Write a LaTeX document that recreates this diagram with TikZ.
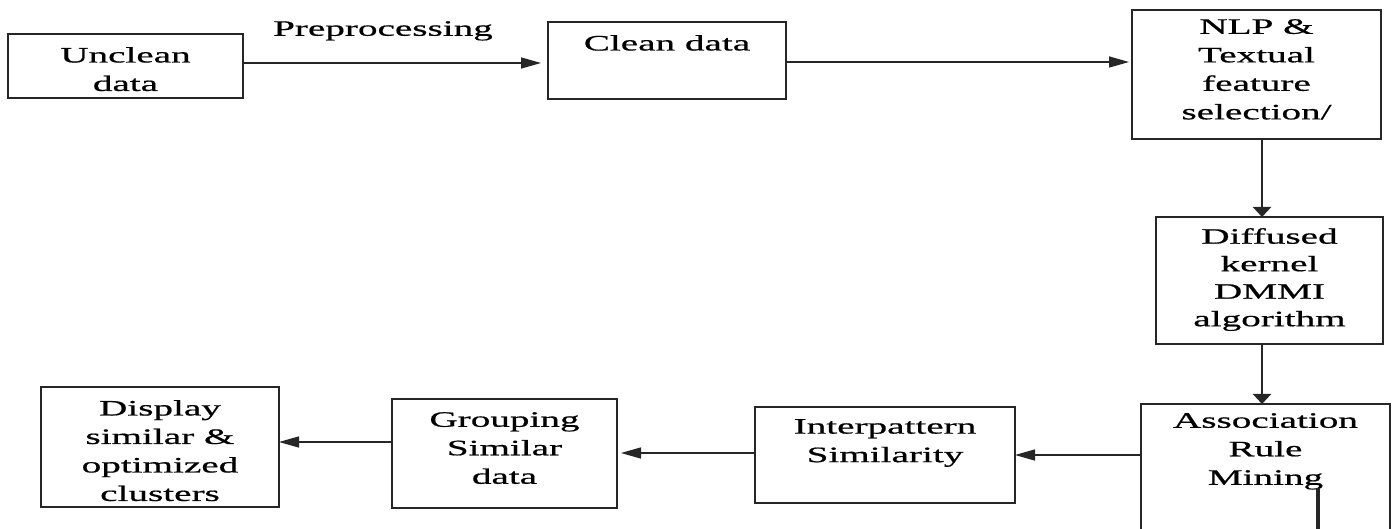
\documentclass[tikz,border=0pt]{standalone}
\usepackage{fontspec}
\setmainfont{Liberation Serif}[FakeStretch=1.78,FakeBold=0.7]
\usetikzlibrary{arrows.meta}
\begin{document}
\begin{tikzpicture}[x=1pt,y=-1pt,
  box/.style={draw=black!85, line width=1.8pt, inner sep=0pt, outer sep=0pt, anchor=north west},
  txt/.style={font=\fontsize{22}{28.5}\selectfont, align=center, inner sep=0pt, anchor=north},
  harr/.style={draw=black!85, line width=1.5pt, -{Triangle[length=20pt,width=11pt]}},
  varr/.style={draw=black!85, line width=2.4pt, -{Triangle[length=10pt,width=18pt]}}]
\clip (0,0) rectangle (1393,529);
\fill[white] (0,0) rectangle (1393,529);
% boxes
\node[box, minimum width=235pt, minimum height=64pt]  (unclean) at (8,34) {};
\node[box, minimum width=238pt, minimum height=77pt]  (clean)   at (548,22) {};
\node[box, minimum width=249pt, minimum height=129pt] (nlp)     at (1132,10) {};
\node[box, minimum width=227pt, minimum height=127pt] (diff)    at (1156,217) {};
\node[box, minimum width=249pt, minimum height=160pt] (assoc)   at (1141,404) {};
\node[box, minimum width=260pt, minimum height=96pt]  (interp)  at (755,407) {};
\node[box, minimum width=225pt, minimum height=109pt] (group)   at (392,399) {};
\node[box, minimum width=238pt, minimum height=120pt] (disp)    at (41,387) {};
% texts
\node[txt] (preT)     at (383,21)    {Preprocessing};
\node[txt] (uncleanT) at (125.5,47)  {Unclean\\data};
\node[txt] (cleanT)   at (667,35)    {Clean data};
\node[txt] (nlpT)     at (1256.5,19) {NLP \&\\Textual\\feature\\selection/};
\node[txt, font=\fontsize{22}{27.5}\selectfont] (diffT) at (1269.5,228) {Diffused\\kernel\\DMMI\\algorithm};
\node[txt] (assocT)   at (1265.5,413) {Association\\Rule\\Mining};
\node[txt] (interpT)  at (885,419)   {Interpattern\\Similarity};
\node[txt] (groupT)   at (504.5,412) {Grouping\\Similar\\data};
\node[txt] (dispT)    at (160,400)   {Display\\similar \&\\optimized\\clusters};
% connectors
\draw[harr, shorten >=7pt] ([yshift=3pt]unclean.east) -- ([yshift=3pt]unclean.east -| clean.west);
\draw[harr, shorten >=3pt] ([yshift=-1.5pt]clean.east) -- ([yshift=-1.5pt]clean.east -| nlp.west);
\draw[varr] ([xshift=5.5pt]nlp.south) -- ([xshift=5.5pt]nlp.south |- diff.north);
\draw[varr] ([xshift=-7.5pt]diff.south) -- ([xshift=-7.5pt]diff.south |- assoc.north);
\draw[harr] ([yshift=29pt]assoc.west) -- ([yshift=29pt]assoc.west -| interp.east);
\draw[harr, shorten >=4pt] ([yshift=2pt]interp.west) -- ([yshift=2pt]interp.west -| group.east);
\draw[harr] ([yshift=11.5pt]group.west) -- ([yshift=11.5pt]group.west -| disp.east);
\coordinate (stubA) at (1318,488);
\coordinate (stubB) at (1318,535);
\draw[line width=4.5pt, black!85] (stubA) -- (stubB);
\end{tikzpicture}
\end{document}
